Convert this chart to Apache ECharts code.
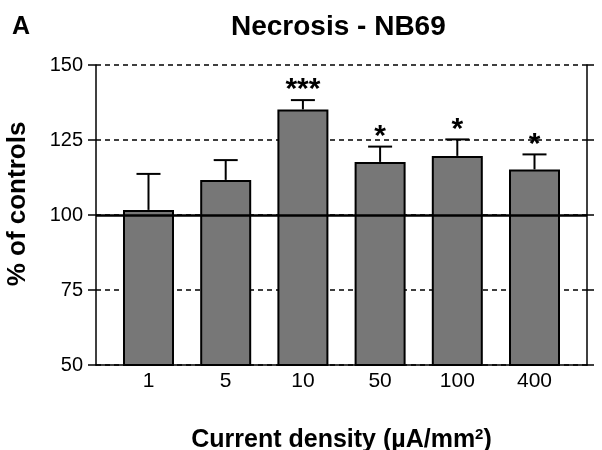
<!DOCTYPE html>
<html>
<head>
<meta charset="utf-8">
<script src="https://cdn.jsdelivr.net/npm/echarts@6/dist/echarts.min.js"></script>
<style>
  html, body { margin: 0; padding: 0; background: #fff; }
  #chart { width: 602px; height: 450px; }
</style>
</head>
<body>
<div id="chart"></div>
<script>
// Necrosis - NB69, % of controls per current density
const categories = ['1', '5', '10', '50', '100', '400'];
const means = [101.7, 111.7, 135.2, 117.7, 119.7, 115.2];
const errTops = [113.7, 118.3, 138.3, 122.8, 125.2, 120.2];
const stars = ['', '', '***', '*', '*', '*'];
const yTicks = [50, 75, 100, 125, 150];

const FONT = 'Liberation Sans, Arial, sans-serif';

let myChart = echarts.init(document.getElementById('chart'), null, { renderer: 'canvas' });

let barData = means.map((v, i) => [i, v]);
let errData = means.map((v, i) => [i, v, errTops[i], stars[i]]);

let option = {
  animation: false,
  backgroundColor: '#fff',
  title: [
    {
      text: 'Necrosis - NB69',
      left: 226, top: 8,
      textStyle: { fontFamily: FONT, fontSize: 28, fontWeight: 'bold', color: '#000' }
    },
    {
      text: 'A',
      left: 7, top: 10,
      textStyle: { fontFamily: FONT, fontSize: 25, fontWeight: 'bold', color: '#000' }
    }
  ],
  grid: { left: 96, right: 15, top: 65, bottom: 85, containLabel: false, outerBoundsMode: 'none' },
  xAxis: {
    type: 'value',
    min: -0.68,
    max: 5.68,
    name: 'Current density (µA/mm{sup|2})',
    nameLocation: 'middle',
    nameGap: 62,
    nameTextStyle: {
      fontFamily: FONT, fontSize: 25, fontWeight: 'bold', color: '#000',
      rich: { sup: { fontFamily: FONT, fontSize: 15, fontWeight: 'bold', color: '#000', verticalAlign: 'top', padding: [0, 0, 12, 0] } }
    },
    axisLine: { show: true, onZero: false, lineStyle: { color: '#000', width: 1.5 } },
    axisTick: { show: false },
    splitLine: { show: false },
    axisLabel: {
      customValues: [0, 1, 2, 3, 4, 5],
      formatter: v => categories[Math.round(v)],
      fontFamily: FONT, fontSize: 21, color: '#000', margin: 6
    }
  },
  yAxis: [
    {
      type: 'value',
      min: yTicks[0],
      max: yTicks[yTicks.length - 1],
      interval: 25,
      axisLine: { show: true, onZero: false, lineStyle: { color: '#000', width: 1.5 } },
      axisTick: { show: true, inside: false, length: 8, lineStyle: { color: '#000', width: 1.5 } },
      axisLabel: { fontFamily: FONT, fontSize: 20, color: '#000', margin: 13 },
      splitLine: { show: true, lineStyle: { color: '#000', width: 1.5, type: [5, 4] } }
    },
    {
      type: 'value',
      position: 'right',
      min: yTicks[0],
      max: yTicks[yTicks.length - 1],
      interval: 25,
      axisLine: { show: true, onZero: false, lineStyle: { color: '#000', width: 1.5 } },
      axisTick: { show: true, inside: false, length: 7, lineStyle: { color: '#000', width: 1.5 } },
      axisLabel: { show: false },
      splitLine: { show: false }
    }
  ],
  graphic: [
    {
      type: 'text',
      x: 18, y: 204,
      rotation: Math.PI / 2,
      style: {
        text: '% of controls',
        font: 'bold 26px ' + FONT,
        fill: '#000',
        align: 'center',
        verticalAlign: 'middle'
      }
    }
  ],
  series: [
    {
      type: 'bar',
      data: barData,
      barWidth: 51,
      itemStyle: { color: '#777777', borderColor: '#000', borderWidth: 2 },
      markLine: {
        silent: true,
        symbol: 'none',
        label: { show: false },
        lineStyle: { color: '#000', width: 2.5, type: 'solid' },
        data: [{ yAxis: 100 }]
      },
      z: 2
    },
    {
      type: 'custom',
      data: errData,
      z: 3,
      renderItem: function (params, api) {
        let x = api.value(0);
        let top = api.coord([x, api.value(1)]);
        let hi = api.coord([x, api.value(2)]);
        let cap = 12;
        let children = [
          { type: 'line', shape: { x1: top[0], y1: top[1], x2: hi[0], y2: hi[1] }, style: { stroke: '#000', lineWidth: 2 } },
          { type: 'line', shape: { x1: hi[0] - cap, y1: hi[1], x2: hi[0] + cap, y2: hi[1] }, style: { stroke: '#000', lineWidth: 2 } }
        ];
        let s = api.value(3);
        if (s) {
          children.push({
            type: 'text',
            x: hi[0], y: hi[1] + 5,
            style: { text: s, font: 'bold 30px ' + FONT, fill: '#000', align: 'center', verticalAlign: 'bottom' }
          });
        }
        return { type: 'group', children: children };
      }
    }
  ]
};

myChart.setOption(option);
</script>
</body>
</html>
